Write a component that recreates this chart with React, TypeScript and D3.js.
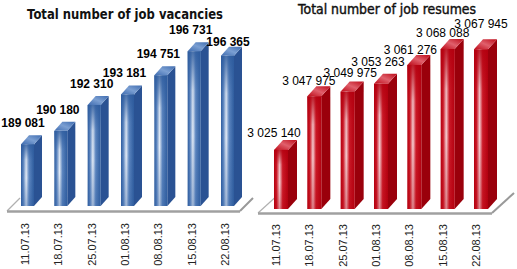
import React from "react";
import * as d3 from "d3";

const dates = ["11.07.13", "18.07.13", "25.07.13", "01.08.13", "08.08.13", "15.08.13", "22.08.13"];
const vacancies = [189081, 190180, 192310, 193181, 194751, 196731, 196365];
const resumes = [3025140, 3047975, 3049975, 3053263, 3061276, 3068088, 3067945];
const vacancyLabels = ["189 081", "190 180", "192 310", "193 181", "194 751", "196 731", "196 365"];
const resumeLabels = ["3 025 140", "3 047 975", "3 049 975", "3 053 263", "3 061 276", "3 068 088", "3 067 945"];

// layout nudges for value labels [dx, dy]
const vacNudge = [[-1.5, 0], [0, 0], [0.5, 0], [0, 0], [0.5, 0], [-0.5, 0], [3.5, 7]];
const resNudge = [[-4, 0], [-2.5, 2], [5.5, -1.5], [0, -4.5], [-1, 2], [-2, 1.5], [3, -8.5]];

type Panel = {
  id: string;
  title: string;
  titleX: number;
  titleY: number;
  titleLen: number;
  titleWeight: string;
  titleStroke: number;
  titleSize: number;
  values: number[];
  labels: string[];
  nudge: number[][];
  domain: [number, number];
  yRange: [number, number];
  xRange: [number, number];
  w: number;
  dx: number;
  dy: number;
  labelGap: number;
  labelCx: number;
  labelWeight: string;
  floor: { x0: number; x1: number; y: number; ddx: number; ddy: number };
  xLabelDx: number;
  xLabelY: number;
  colors: { edge: string; mid: string; hi: string; side: string; top1: string; top2: string };
};

const panels: Panel[] = [
  {
    id: "v",
    title: "Total number of job vacancies",
    titleX: 125,
    titleY: 19,
    titleLen: 196,
    titleWeight: "bold",
    titleStroke: 0,
    titleSize: 14,
    values: vacancies,
    labels: vacancyLabels,
    nudge: vacNudge,
    domain: [184000, 200000],
    yRange: [206, 11.5],
    xRange: [21, 221],
    w: 13,
    dx: 8,
    dy: 9,
    labelGap: 8,
    labelCx: 3.5,
    labelWeight: "bold",
    floor: { x0: 7, x1: 240, y: 211, ddx: 13, ddy: 13 },
    xLabelDx: 8,
    xLabelY: 223,
    colors: { edge: "#2e5c9e", mid: "#5d86c0", hi: "#e4ecf7", side: "#2a5293", top1: "#3f6cb0", top2: "#7b9fd2" },
  },
  {
    id: "r",
    title: "Total number of job resumes",
    titleX: 387,
    titleY: 14,
    titleLen: 178,
    titleWeight: "normal",
    titleStroke: 0.45,
    titleSize: 14,
    values: resumes,
    labels: resumeLabels,
    nudge: resNudge,
    domain: [3000000, 3080000],
    yRange: [209, 21],
    xRange: [274, 474],
    w: 14,
    dx: 9,
    dy: 10,
    labelGap: 3,
    labelCx: 4,
    labelWeight: "normal",
    floor: { x0: 258, x1: 492, y: 213, ddx: 22, ddy: 20 },
    xLabelDx: 6,
    xLabelY: 224,
    colors: { edge: "#b3000f", mid: "#cc1a28", hi: "#f6d0d4", side: "#9a000b", top1: "#bd0a18", top2: "#e0606c" },
  },
];

function PanelView({ p }: { p: Panel }) {
  const x = d3.scalePoint<string>().domain(dates).range(p.xRange);
  const y = d3.scaleLinear().domain(p.domain).range(p.yRange);
  const base = y(p.domain[0]);
  const c = p.colors;
  const f = p.floor;
  return (
    <g>
      <defs>
        <linearGradient id={`front-${p.id}`} x1="0" y1="0" x2="1" y2="0">
          <stop offset="0%" stopColor={c.edge} />
          <stop offset="18%" stopColor={c.mid} />
          <stop offset="40%" stopColor={c.hi} />
          <stop offset="62%" stopColor={c.mid} />
          <stop offset="100%" stopColor={c.edge} />
        </linearGradient>
        <linearGradient id={`shade-${p.id}`} x1="0" y1="0" x2="0" y2="1">
          <stop offset="0%" stopColor={c.edge} stopOpacity={0.85} />
          <stop offset="25%" stopColor={c.edge} stopOpacity={0.1} />
          <stop offset="55%" stopColor={c.edge} stopOpacity={0} />
          <stop offset="100%" stopColor={c.edge} stopOpacity={0.35} />
        </linearGradient>
        <linearGradient id={`top-${p.id}`} x1="0" y1="1" x2="1" y2="0">
          <stop offset="0%" stopColor={c.top1} />
          <stop offset="50%" stopColor={c.top2} />
          <stop offset="100%" stopColor={c.top1} />
        </linearGradient>
      </defs>
      <text
        x={p.titleX}
        y={p.titleY}
        textAnchor="middle"
        fontFamily="'DejaVu Sans', Verdana, sans-serif"
        fontWeight={p.titleWeight}
        fontSize={p.titleSize}
        textLength={p.titleLen}
        lengthAdjust="spacingAndGlyphs"
        fill="#111"
        stroke="#111"
        strokeWidth={p.titleStroke}
      >
        {p.title}
      </text>
      {/* floor */}
      <line x1={f.x0} y1={f.y} x2={f.x0 + f.ddx} y2={f.y - f.ddy} stroke="#b0b0b0" strokeWidth={1.2} />
      <line x1={f.x1} y1={f.y} x2={f.x1 + f.ddx} y2={f.y - f.ddy} stroke="#999" strokeWidth={2} />
      <line x1={f.x0} y1={f.y + 0.5} x2={f.x1} y2={f.y + 0.5} stroke="#a0a0a0" strokeWidth={2.5} />
      {p.values.map((v, i) => {
        const x0 = x(dates[i]) as number;
        const yt = y(v);
        const w = p.w;
        const dx = p.dx;
        const dy = p.dy;
        return (
          <g key={i}>
            <polygon
              points={`${x0 + w},${yt} ${x0 + w + dx},${yt - dy} ${x0 + w + dx},${base - dy} ${x0 + w},${base}`}
              fill={c.side}
            />
            <polygon
              points={`${x0},${yt} ${x0 + w},${yt} ${x0 + w + dx},${yt - dy} ${x0 + dx},${yt - dy}`}
              fill={`url(#top-${p.id})`}
            />
            <rect x={x0} y={yt} width={w} height={base - yt} fill={`url(#front-${p.id})`} />
            <rect x={x0} y={yt} width={w} height={base - yt} fill={`url(#shade-${p.id})`} />
          </g>
        );
      })}
      {p.values.map((v, i) => {
        const x0 = x(dates[i]) as number;
        const yt = y(v) - p.dy;
        return (
          <text
            key={`l${i}`}
            x={x0 + p.labelCx + p.nudge[i][0]}
            y={yt - p.labelGap + p.nudge[i][1]}
            textAnchor="middle"
            fontFamily="'Liberation Sans', Arial, sans-serif"
            fontWeight={p.labelWeight}
            fontSize={12}
            fill="#000"
          >
            {p.labels[i]}
          </text>
        );
      })}
      {dates.map((d, i) => {
        const x0 = (x(d) as number) + p.xLabelDx;
        return (
          <text
            key={`x${i}`}
            transform={`translate(${x0},${p.xLabelY}) rotate(-90)`}
            textAnchor="end"
            fontFamily="'Liberation Sans', Arial, sans-serif"
            fontSize={11}
            fill="#222"
          >
            {d}
          </text>
        );
      })}
    </g>
  );
}

export default function App() {
  return (
    <svg width={517} height={269} style={{ position: "absolute", left: 0, top: 0, background: "#fff" }}>
      <rect width={517} height={269} fill="#fff" />
      {panels.map((p) => (
        <PanelView key={p.id} p={p} />
      ))}
    </svg>
  );
}
